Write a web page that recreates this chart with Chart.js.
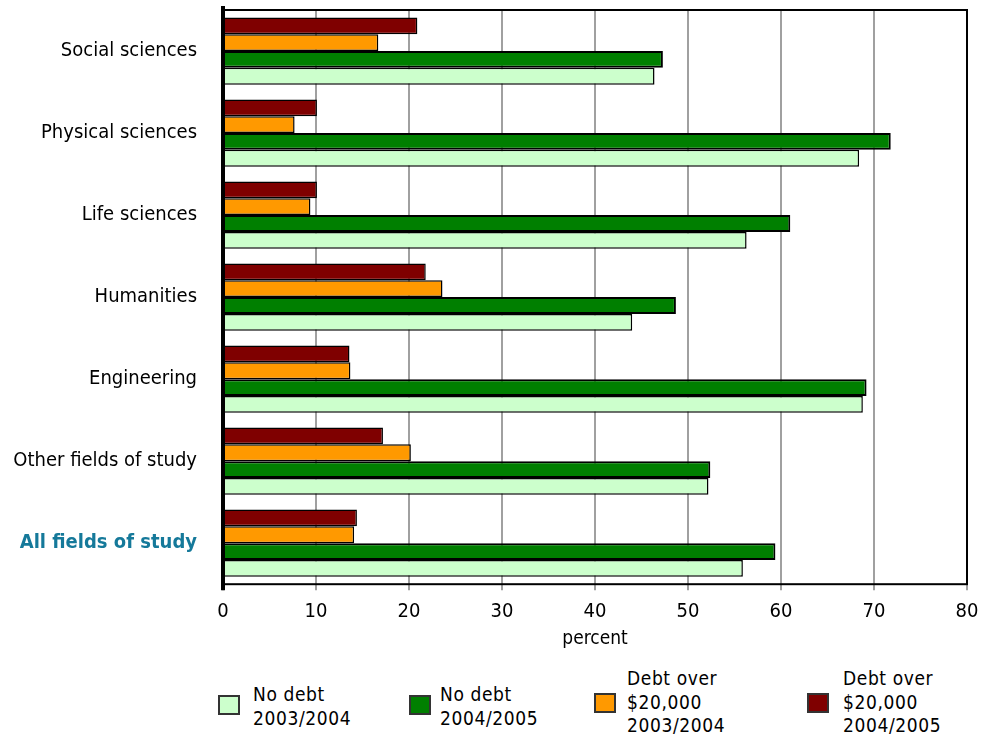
<!DOCTYPE html>
<html>
<head>
<meta charset="utf-8">
<script src="https://cdn.jsdelivr.net/npm/chart.js@4/dist/chart.umd.min.js"></script>
<style>
  body { margin: 0; background: #fff; font-family: "DejaVu Sans Condensed", sans-serif; }
  #wrap { position: relative; width: 985px; height: 736px; }
  #chartBox { position: absolute; left: 0; top: 0; width: 985px; height: 661px; }
  .leg { position: absolute; font-size: 19px; line-height: 23.5px; color: #000; letter-spacing: 0.6px; }
  .box { position: absolute; width: 18px; height: 16px; border: 2px solid #333; }
</style>
</head>
<body>
<div id="wrap">
  <div id="chartBox"><canvas id="debtChart"></canvas></div>
  <div id="legend"></div>
</div>
<script>
const categories = ['Social sciences', 'Physical sciences', 'Life sciences', 'Humanities',
                    'Engineering', 'Other fields of study', 'All fields of study'];
const debt0405 = [20.9, 10.1, 10.1, 21.8, 13.6, 17.2, 14.4];
const debt0304 = [16.7, 7.7, 9.4, 23.6, 13.7, 20.2, 14.1];
const noDebt0405 = [47.3, 71.8, 61.0, 48.7, 69.2, 52.4, 59.4];
const noDebt0304 = [46.4, 68.4, 56.3, 44.0, 68.8, 52.2, 55.9];
const xTicks = [0, 10, 20, 30, 40, 50, 60, 70, 80];

const FONT = '"DejaVu Sans Condensed", sans-serif';

// frame around the plot area
const framePlugin = {
    id: 'frame',
    afterDraw(chart) {
        const a = chart.chartArea;
        const ctx = chart.ctx;
        ctx.save();
        ctx.strokeStyle = '#000';
        ctx.lineWidth = 2;
        ctx.strokeRect(a.left, a.top, a.right - a.left, a.bottom - a.top);
        ctx.lineWidth = 4;
        ctx.beginPath();
        ctx.moveTo(a.left, a.top - 4);
        ctx.lineTo(a.left, a.bottom + 6);
        ctx.stroke();
        ctx.restore();
    }
};

const ctx = document.getElementById('debtChart').getContext('2d');
new Chart(ctx, {
    type: 'bar',
    data: {
        labels: categories,
        datasets: [
            { label: 'Debt over $20,000 2004/2005', data: debt0405, backgroundColor: '#7f0000', borderColor: '#000', borderWidth: 1.5 },
            { label: 'Debt over $20,000 2003/2004', data: debt0304, backgroundColor: '#ff9900', borderColor: '#000', borderWidth: 1.5 },
            { label: 'No debt 2004/2005', data: noDebt0405, backgroundColor: '#007f00', borderColor: '#000', borderWidth: 2 },
            { label: 'No debt 2003/2004', data: noDebt0304, backgroundColor: '#ccffcc', borderColor: '#000', borderWidth: 1.5 }
        ]
    },
    options: {
        indexAxis: 'y',
        responsive: true,
        maintainAspectRatio: false,
        animation: false,
        layout: { padding: { top: 10, right: 18, left: 0, bottom: 0 } },
        datasets: { bar: { categoryPercentage: 0.82, barPercentage: 1.0 } },
        plugins: {
            legend: { display: false },
            tooltip: { enabled: false }
        },
        scales: {
            x: {
                min: 0,
                max: 80,
                afterBuildTicks: scale => { scale.ticks = xTicks.map(v => ({ value: v })); },
                afterFit: scale => {
                    scale.paddingLeft = 0;
                    scale.paddingRight = 0;
                },
                grid: { color: '#a0a0a0', lineWidth: 2, drawTicks: true, tickLength: 6 },
                border: { display: false },
                ticks: { color: '#000', font: { family: FONT, size: 20 }, padding: 10, maxRotation: 0 },
                title: { display: true, text: 'percent', color: '#000', font: { family: FONT, size: 19 }, padding: { top: -7, bottom: 11 } }
            },
            y: {
                afterFit: scale => {
                    scale.width = 223;
                    scale.paddingTop = 0;
                    scale.paddingBottom = 0;
                },
                grid: { display: false },
                border: { display: false },
                ticks: {
                    padding: 18,
                    color: c => c.index === 6 ? '#15799a' : '#000',
                    font: c => ({ family: FONT, size: 20, weight: c.index === 6 ? 'bold' : 'normal' })
                }
            }
        }
    },
    plugins: [framePlugin]
});

// legend, order as in the picture
const legendItems = [
    { color: '#ccffcc', lines: ['No debt', '2003/2004'], x: 218, tx: 253 },
    { color: '#007f00', lines: ['No debt', '2004/2005'], x: 409, tx: 440 },
    { color: '#ff9900', lines: ['Debt over', '$20,000', '2003/2004'], x: 594, tx: 627 },
    { color: '#7f0000', lines: ['Debt over', '$20,000', '2004/2005'], x: 807, tx: 843 }
];
const legend = document.getElementById('legend');
legendItems.forEach(item => {
    const top = item.lines.length === 2 ? 683 : 667;
    const d = document.createElement('div');
    d.className = 'leg';
    d.style.left = item.tx + 'px';
    d.style.top = top + 'px';
    d.innerHTML = item.lines.join('<br>');
    legend.appendChild(d);
    const b = document.createElement('div');
    b.className = 'box';
    b.style.left = item.x + 'px';
    b.style.top = (item.lines.length === 2 ? 695 : 693) + 'px';
    b.style.background = item.color;
    legend.appendChild(b);
});
</script>
</body>
</html>
